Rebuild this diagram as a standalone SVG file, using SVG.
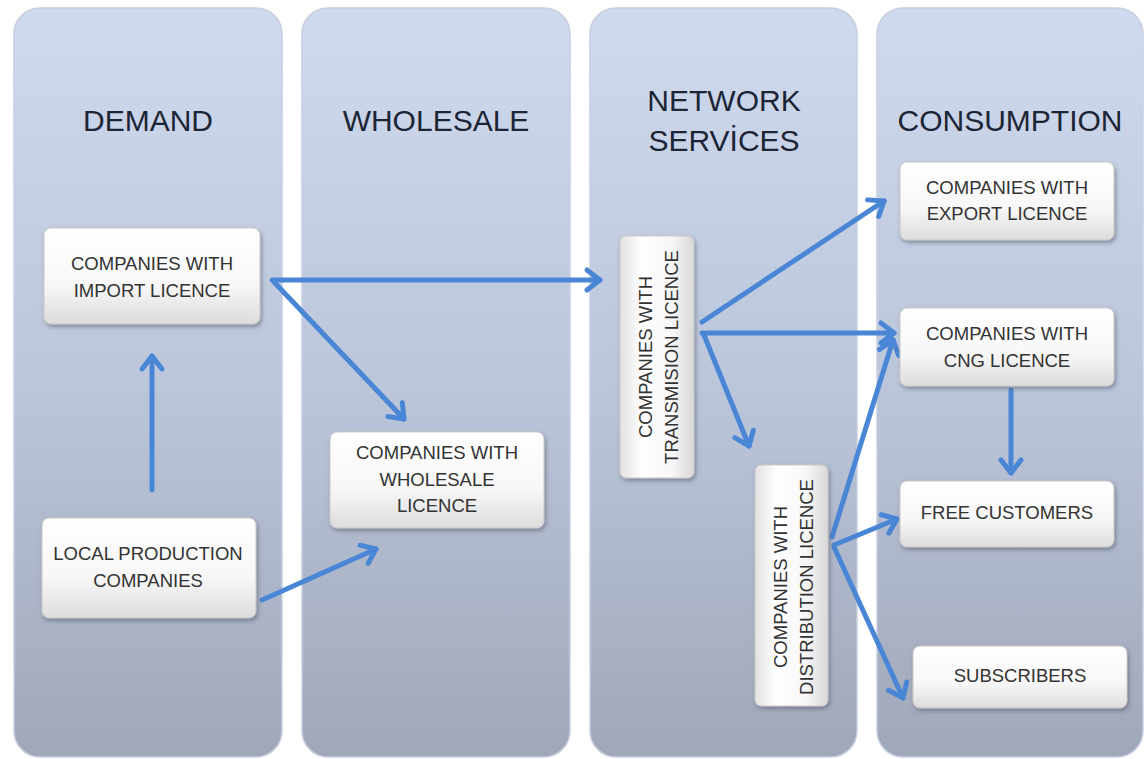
<svg xmlns="http://www.w3.org/2000/svg" width="1145" height="759" viewBox="0 0 1145 759">
  <defs>
    <linearGradient id="colFill" x1="0" y1="0" x2="0" y2="1">
      <stop offset="0" stop-color="#cfdaee"/>
      <stop offset="0.5" stop-color="#bcc6db"/>
      <stop offset="1" stop-color="#a0a7b8"/>
    </linearGradient>
    <linearGradient id="boxFill" x1="0" y1="0" x2="0" y2="1">
      <stop offset="0" stop-color="#ffffff"/>
      <stop offset="0.6" stop-color="#f7f7f7"/>
      <stop offset="1" stop-color="#dcdcdc"/>
    </linearGradient>
    <linearGradient id="boxFillV" x1="0" y1="0" x2="1" y2="0">
      <stop offset="0" stop-color="#e2e2e2"/>
      <stop offset="0.3" stop-color="#ffffff"/>
      <stop offset="0.7" stop-color="#f7f7f7"/>
      <stop offset="1" stop-color="#d8d8d8"/>
    </linearGradient>
    <filter id="shadow" x="-20%" y="-20%" width="140%" height="140%">
      <feDropShadow dx="1.5" dy="2.5" stdDeviation="2" flood-color="#505866" flood-opacity="0.55"/>
    </filter>
    <marker id="arrow" markerUnits="userSpaceOnUse" viewBox="-20 -14 26 28" markerWidth="26" markerHeight="28" refX="0" refY="0" orient="auto">
      <path d="M -13 -10 L 0 0 L -13 10" fill="none" stroke="#4a86d6" stroke-width="5" stroke-linecap="round" stroke-linejoin="round"/>
    </marker>
    <style>
      .col { fill: url(#colFill); stroke: #c6cfe0; stroke-width: 1.5; }
      .box { fill: url(#boxFill); stroke: #c9c9c9; stroke-width: 1; filter: url(#shadow); }
      .boxv { fill: url(#boxFillV); stroke: #c9c9c9; stroke-width: 1; filter: url(#shadow); }
      .head { font-family: "Liberation Sans", Arial, sans-serif; font-size: 30px; fill: #1c2535; text-anchor: middle; }
      .lbl { font-family: "Liberation Sans", Arial, sans-serif; font-size: 18.5px; fill: #333333; text-anchor: middle; }
      .conn { fill: none; stroke: #4a86d6; stroke-width: 5; stroke-linecap: round; marker-end: url(#arrow); }
    </style>
  </defs>

  <rect width="1145" height="759" fill="#ffffff"/>

  <!-- stage columns -->
  <g id="col-demand">
    <rect class="col" x="14" y="8" width="268" height="749" rx="26"/>
    <text class="head" x="148" y="131">DEMAND</text>
  </g>
  <g id="col-wholesale">
    <rect class="col" x="302" y="8" width="268" height="749" rx="26"/>
    <text class="head" x="436" y="131">WHOLESALE</text>
  </g>
  <g id="col-network">
    <rect class="col" x="590" y="8" width="267" height="749" rx="26"/>
    <text class="head" x="724" y="111">NETWORK</text>
    <text class="head" x="724" y="151">SERVİCES</text>
  </g>
  <g id="col-consumption">
    <rect class="col" x="877" y="8" width="266" height="749" rx="26"/>
    <text class="head" x="1010" y="131">CONSUMPTION</text>
  </g>

  <!-- connectors -->
  <g id="connectors">
    <line class="conn" x1="152" y1="490" x2="152" y2="356"/>
    <line class="conn" x1="262" y1="600" x2="376" y2="549"/>
    <line class="conn" x1="272" y1="280" x2="600" y2="280"/>
    <line class="conn" x1="274" y1="282" x2="404" y2="419"/>
    <line class="conn" x1="702" y1="322" x2="884" y2="201"/>
    <line class="conn" x1="702" y1="333" x2="894" y2="333"/>
    <line class="conn" x1="704" y1="335" x2="749" y2="446"/>
    <line class="conn" x1="832" y1="537" x2="893" y2="340"/>
    <line class="conn" x1="834" y1="545" x2="897" y2="519"/>
    <line class="conn" x1="834" y1="547" x2="903" y2="698"/>
    <line class="conn" x1="1011" y1="390" x2="1011" y2="473"/>
  </g>

  <!-- nodes -->
  <g id="node-import">
    <rect class="box" x="44" y="228" width="216" height="96" rx="7"/>
    <text class="lbl" x="152" y="270">COMPANIES WITH</text>
    <text class="lbl" x="152" y="297">IMPORT LICENCE</text>
  </g>
  <g id="node-local">
    <rect class="box" x="42" y="518" width="214" height="100" rx="7"/>
    <text class="lbl" x="148" y="560">LOCAL PRODUCTION</text>
    <text class="lbl" x="148" y="587">COMPANIES</text>
  </g>
  <g id="node-wholesale">
    <rect class="box" x="330" y="432" width="214" height="96" rx="7"/>
    <text class="lbl" x="437" y="459">COMPANIES WITH</text>
    <text class="lbl" x="437" y="486">WHOLESALE</text>
    <text class="lbl" x="437" y="512">LICENCE</text>
  </g>
  <g id="node-transmission">
    <rect class="boxv" x="620" y="236" width="74" height="242" rx="6"/>
    <g transform="translate(657 357) rotate(-90)">
      <text class="lbl" x="0" y="-5">COMPANIES WITH</text>
      <text class="lbl" x="0" y="21">TRANSMISION LICENCE</text>
    </g>
  </g>
  <g id="node-distribution">
    <rect class="boxv" x="755" y="465" width="73" height="241" rx="6"/>
    <g transform="translate(792 587) rotate(-90)">
      <text class="lbl" x="0" y="-5">COMPANIES WITH</text>
      <text class="lbl" x="0" y="21">DISTRIBUTION LICENCE</text>
    </g>
  </g>
  <g id="node-export">
    <rect class="box" x="900" y="162" width="214" height="78" rx="7"/>
    <text class="lbl" x="1007" y="194">COMPANIES WITH</text>
    <text class="lbl" x="1007" y="220">EXPORT LICENCE</text>
  </g>
  <g id="node-cng">
    <rect class="box" x="900" y="308" width="214" height="78" rx="7"/>
    <text class="lbl" x="1007" y="340">COMPANIES WITH</text>
    <text class="lbl" x="1007" y="367">CNG LICENCE</text>
  </g>
  <g id="node-free">
    <rect class="box" x="900" y="481" width="214" height="66" rx="7"/>
    <text class="lbl" x="1007" y="519">FREE CUSTOMERS</text>
  </g>
  <g id="node-subscribers">
    <rect class="box" x="913" y="646" width="214" height="62" rx="7"/>
    <text class="lbl" x="1020" y="682">SUBSCRIBERS</text>
  </g>
</svg>
